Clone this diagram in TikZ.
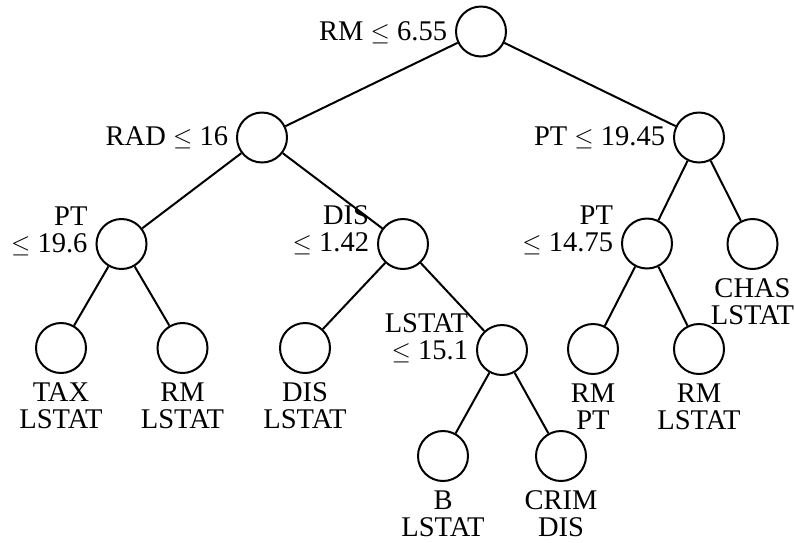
\documentclass[tikz,border=0pt]{standalone}
\usepackage{fontspec}
\setmainfont{Liberation Serif}
\begin{document}
\begin{tikzpicture}[x=1pt,y=-1pt, line width=2pt,
  tn/.style={circle, draw, minimum size=50pt, inner sep=0pt},
  lbl/.style={inner sep=0pt, align=right, anchor=south east, text depth=0pt},
  leaflbl/.style={inner sep=0pt, align=center, anchor=north},
  font=\fontsize{28.5}{27}\selectfont]
\useasboundingbox (0,0) rectangle (795,542);
% nodes
\node[tn] (root) at (481,31.5) {};
\node[tn] (rad) at (262,137.5) {};
\node[tn] (pta) at (699,137.5) {};
\node[tn] (ptb) at (121.5,244) {};
\node[tn] (dis) at (403,244) {};
\node[tn] (ptc) at (647,243.5) {};
\node[tn] (chas) at (752.5,244) {};
\node[tn] (tax) at (61,348) {};
\node[tn] (rma) at (182.5,348) {};
\node[tn] (disb) at (305,348) {};
\node[tn] (lstat) at (502,350) {};
\node[tn] (rmpt) at (593,349) {};
\node[tn] (rmb) at (699,349) {};
\node[tn] (b) at (443,456) {};
\node[tn] (crim) at (561,456) {};
% split labels
\node[lbl] (lroot) at ([xshift=-7pt,yshift=-10pt]root.west) {RM $\leq$ 6.55};
\node[lbl] (lrad) at ([xshift=-7pt,yshift=-9pt]rad.west) {RAD $\leq$ 16};
\node[lbl] (lpta) at ([xshift=-7pt,yshift=-9pt]pta.west) {PT $\leq$ 19.45};
\node[lbl] (lptb) at ([xshift=-7pt,yshift=-9pt]ptb.west) {PT\\$\leq$ 19.6};
\node[lbl] (ldis) at ([xshift=-7pt,yshift=-8pt]dis.west) {DIS\\$\leq$ 1.42};
\node[lbl] (lptc) at ([xshift=-7pt,yshift=-9pt]ptc.west) {PT\\$\leq$ 14.75};
\node[lbl] (llstat) at ([xshift=-7pt,yshift=-10pt]lstat.west) {LSTAT\\$\leq$ 15.1};
% leaf labels
\node[leaflbl] (ltax) at ([yshift=-8pt]tax.south) {TAX\\LSTAT};
\node[leaflbl] (lrma) at ([yshift=-8pt]rma.south) {RM\\LSTAT};
\node[leaflbl] (ldisb) at ([yshift=-8pt]disb.south) {DIS\\LSTAT};
\node[leaflbl] (lrmpt) at ([yshift=-8pt]rmpt.south) {RM\\PT};
\node[leaflbl] (lrmb) at ([yshift=-8pt]rmb.south) {RM\\LSTAT};
\node[leaflbl] (lchas) at ([yshift=-8pt]chas.south) {CHAS\\LSTAT};
\node[leaflbl] (lb) at ([yshift=-8pt]b.south) {B\\LSTAT};
\node[leaflbl] (lcrim) at ([yshift=-8pt]crim.south) {CRIM\\DIS};
% edges
\draw (root) -- (rad);
\draw (root) -- (pta);
\draw (rad) -- (ptb);
\draw (rad) -- (dis);
\draw (ptb) -- (tax);
\draw (ptb) -- (rma);
\draw (dis) -- (disb);
\draw (dis) -- (lstat);
\draw (lstat) -- (b);
\draw (lstat) -- (crim);
\draw (pta) -- (ptc);
\draw (pta) -- (chas);
\draw (ptc) -- (rmpt);
\draw (ptc) -- (rmb);
\end{tikzpicture}
\end{document}
